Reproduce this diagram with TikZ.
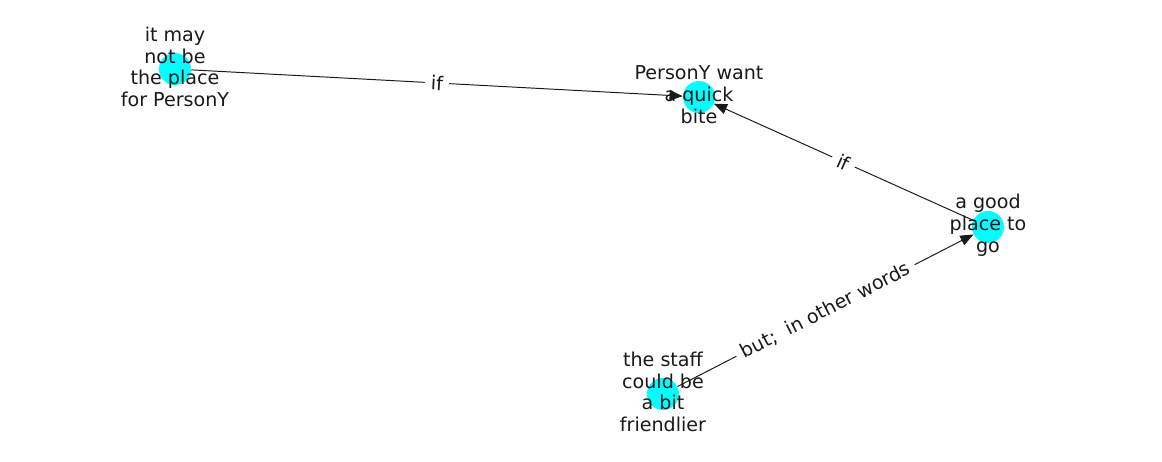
\documentclass[tikz,border=0pt]{standalone}
\usepackage{fontspec}
\setmainfont{DejaVu Sans}
\usetikzlibrary{arrows.meta}
\definecolor{nodecyan}{RGB}{0,255,255}

\begin{document}
\begin{tikzpicture}[
  x=0.01in, y=-0.01in,
  dot/.style={circle, fill=nodecyan, minimum size=0.32in, inner sep=0pt},
  txt/.style={align=center, font=\fontsize{13.8}{15.8}\selectfont, text=black!90},
  edge/.style={-{Triangle[length=9.5pt, width=7.5pt]}, line width=0.7pt, draw=black!90},
  elbl/.style={fill=white, inner xsep=4.5pt, inner ysep=2pt, sloped, font=\fontsize{13.8}{15.8}\selectfont, text=black!90},
]
\useasboundingbox (0,0) rectangle (1162,462);

\node[dot] (place)  at (175,69)  {};
\node[dot] (bite)   at (699,97)  {};
\node[dot] (good)   at (988,227) {};
\node[dot] (staff)  at (663,394) {};

\draw[edge] (place) -- node[elbl] {if} (bite);
\draw[edge] (good)  -- node[elbl] {if} (bite);
\draw[edge] (staff) -- node[elbl] {but;~ in other words} (good);

\node[txt] (place-t) at ([yshift=1.5pt]place) {it may\\not be\\the place\\for PersonY};
\node[txt] (bite-t)  at ([yshift=1.5pt]bite)  {PersonY want\\a quick\\bite};
\node[txt] (good-t)  at ([yshift=1.5pt]good)  {a good\\place to\\go};
\node[txt] (staff-t) at ([yshift=1.5pt]staff) {the staff\\could be\\a bit\\friendlier};
\end{tikzpicture}
\end{document}
